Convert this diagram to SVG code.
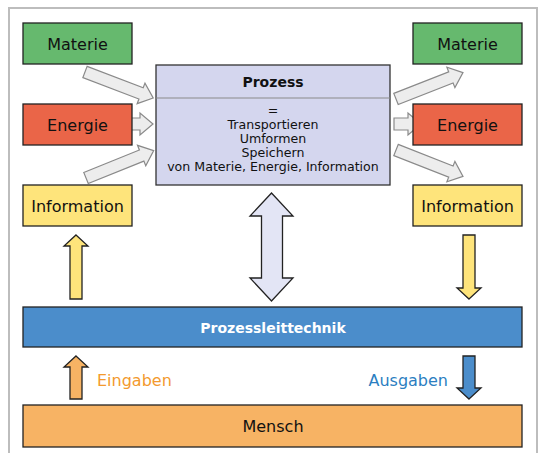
<svg xmlns="http://www.w3.org/2000/svg" width="540" height="453" viewBox="0 0 540 453">
  <style>
    .box { stroke: #222; stroke-width: 1.3; }
    .lbl { font-family: "DejaVu Sans", "Liberation Sans", sans-serif; font-size: 16px; fill: #111; text-anchor: middle; }
    .body { font-family: "DejaVu Sans", "Liberation Sans", sans-serif; font-size: 12.6px; fill: #111; text-anchor: middle; }
    .bold { font-family: "DejaVu Sans", "Liberation Sans", sans-serif; font-weight: bold; font-size: 14px; text-anchor: middle; }
    .flow { fill: #ededed; stroke: #8a8a8a; stroke-width: 1.2; }
    .sig { stroke: #222; stroke-width: 1.3; }
    .green { fill: #66b96e; }
    .red { fill: #ea6548; }
    .yellow { fill: #fee47b; }
  </style>
  <defs>
    <!-- flow arrow, tail at x=0, tip at x=L (set per use through scale-free paths below) -->
  </defs>

  <rect width="540" height="453" fill="#ffffff"/>
  <!-- outer frame -->
  <path d="M9,460 V8 H537 V460" fill="none" stroke="#bdbdbd" stroke-width="2"/>

  <!-- connectors -->
  <g id="connectors">
    <!-- inputs into the process -->
    <path class="flow" transform="translate(85,72) rotate(20.9)" d="M0,-6 H60 V-11 L73,0 L60,11 V6 H0 Z"/>
    <path class="flow" transform="translate(126,124)" d="M0,-6 H14 V-11 L27,0 L14,11 V6 H0 Z"/>
    <path class="flow" transform="translate(86,178) rotate(-22)" d="M0,-6 H60 V-11 L73,0 L60,11 V6 H0 Z"/>
    <!-- outputs from the process -->
    <path class="flow" transform="translate(396,99) rotate(-21.5)" d="M0,-6 H59 V-11 L72,0 L59,11 V6 H0 Z"/>
    <path class="flow" transform="translate(394,124)" d="M0,-6 H14 V-11 L27,0 L14,11 V6 H0 Z"/>
    <path class="flow" transform="translate(396,150) rotate(21.5)" d="M0,-6 H59 V-11 L72,0 L59,11 V6 H0 Z"/>

    <!-- process <-> control system -->
    <path d="M271.5,193 L293,216 H282.5 V278 H293 L271.5,301 L250,278 H261.5 V216 H250 Z" fill="#e3e5f5" stroke="#222" stroke-width="1.3"/>

    <!-- information up / down -->
    <path class="sig yellow" d="M76,235 L88,246 H82 V299 H70 V246 H64 Z"/>
    <path class="sig yellow" d="M469,299 L481,288 H475 V235 H463 V288 H457 Z"/>

    <!-- inputs / outputs of the operator -->
    <path class="sig" fill="#f7b364" d="M76,356 L88,367 H82 V399 H70 V367 H64 Z"/>
    <path class="sig" fill="#4b8dcb" d="M469,399 L481,388 H475 V356 H463 V388 H457 Z"/>
  </g>

  <g id="materie-in">
    <rect class="box green" x="23" y="23" width="109" height="41"/>
    <text class="lbl" x="77.5" y="49.5">Materie</text>
  </g>
  <g id="energie-in">
    <rect class="box red" x="23" y="104" width="109" height="41"/>
    <text class="lbl" x="77.5" y="130.5">Energie</text>
  </g>
  <g id="information-in">
    <rect class="box yellow" x="23" y="185" width="109" height="41"/>
    <text class="lbl" x="77.5" y="211.5">Information</text>
  </g>

  <g id="materie-out">
    <rect class="box green" x="413" y="23" width="109" height="41"/>
    <text class="lbl" x="467.5" y="49.5">Materie</text>
  </g>
  <g id="energie-out">
    <rect class="box red" x="413" y="104" width="109" height="41"/>
    <text class="lbl" x="467.5" y="130.5">Energie</text>
  </g>
  <g id="information-out">
    <rect class="box yellow" x="413" y="185" width="109" height="41"/>
    <text class="lbl" x="467.5" y="211.5">Information</text>
  </g>

  <g id="prozess">
    <rect x="156" y="65" width="234" height="120" fill="#d4d6ee" stroke="#333" stroke-width="1.3"/>
    <line x1="156" y1="98" x2="390" y2="98" stroke="#8a8a8a" stroke-width="1.2"/>
    <text class="bold" x="273" y="87" fill="#111">Prozess</text>
    <text class="body" x="273" y="115">=</text>
    <text class="body" x="273" y="129">Transportieren</text>
    <text class="body" x="273" y="143">Umformen</text>
    <text class="body" x="273" y="157">Speichern</text>
    <text class="body" x="273" y="171">von Materie, Energie, Information</text>
  </g>

  <g id="prozessleittechnik">
    <rect class="box" x="23" y="307" width="499" height="40" fill="#4b8dcb"/>
    <text class="bold" x="273" y="333" fill="#ffffff">Prozessleittechnik</text>
  </g>

  <g id="mensch">
    <rect class="box" x="23" y="405" width="499" height="42" fill="#f7b364"/>
    <text class="lbl" x="273" y="432">Mensch</text>
  </g>

  <g id="labels">
    <text x="97" y="386" font-family="DejaVu Sans, Liberation Sans, sans-serif" font-size="16" fill="#f39a2e">Eingaben</text>
    <text x="448" y="386" font-family="DejaVu Sans, Liberation Sans, sans-serif" font-size="16" fill="#2b7ec1" text-anchor="end">Ausgaben</text>
  </g>
</svg>
